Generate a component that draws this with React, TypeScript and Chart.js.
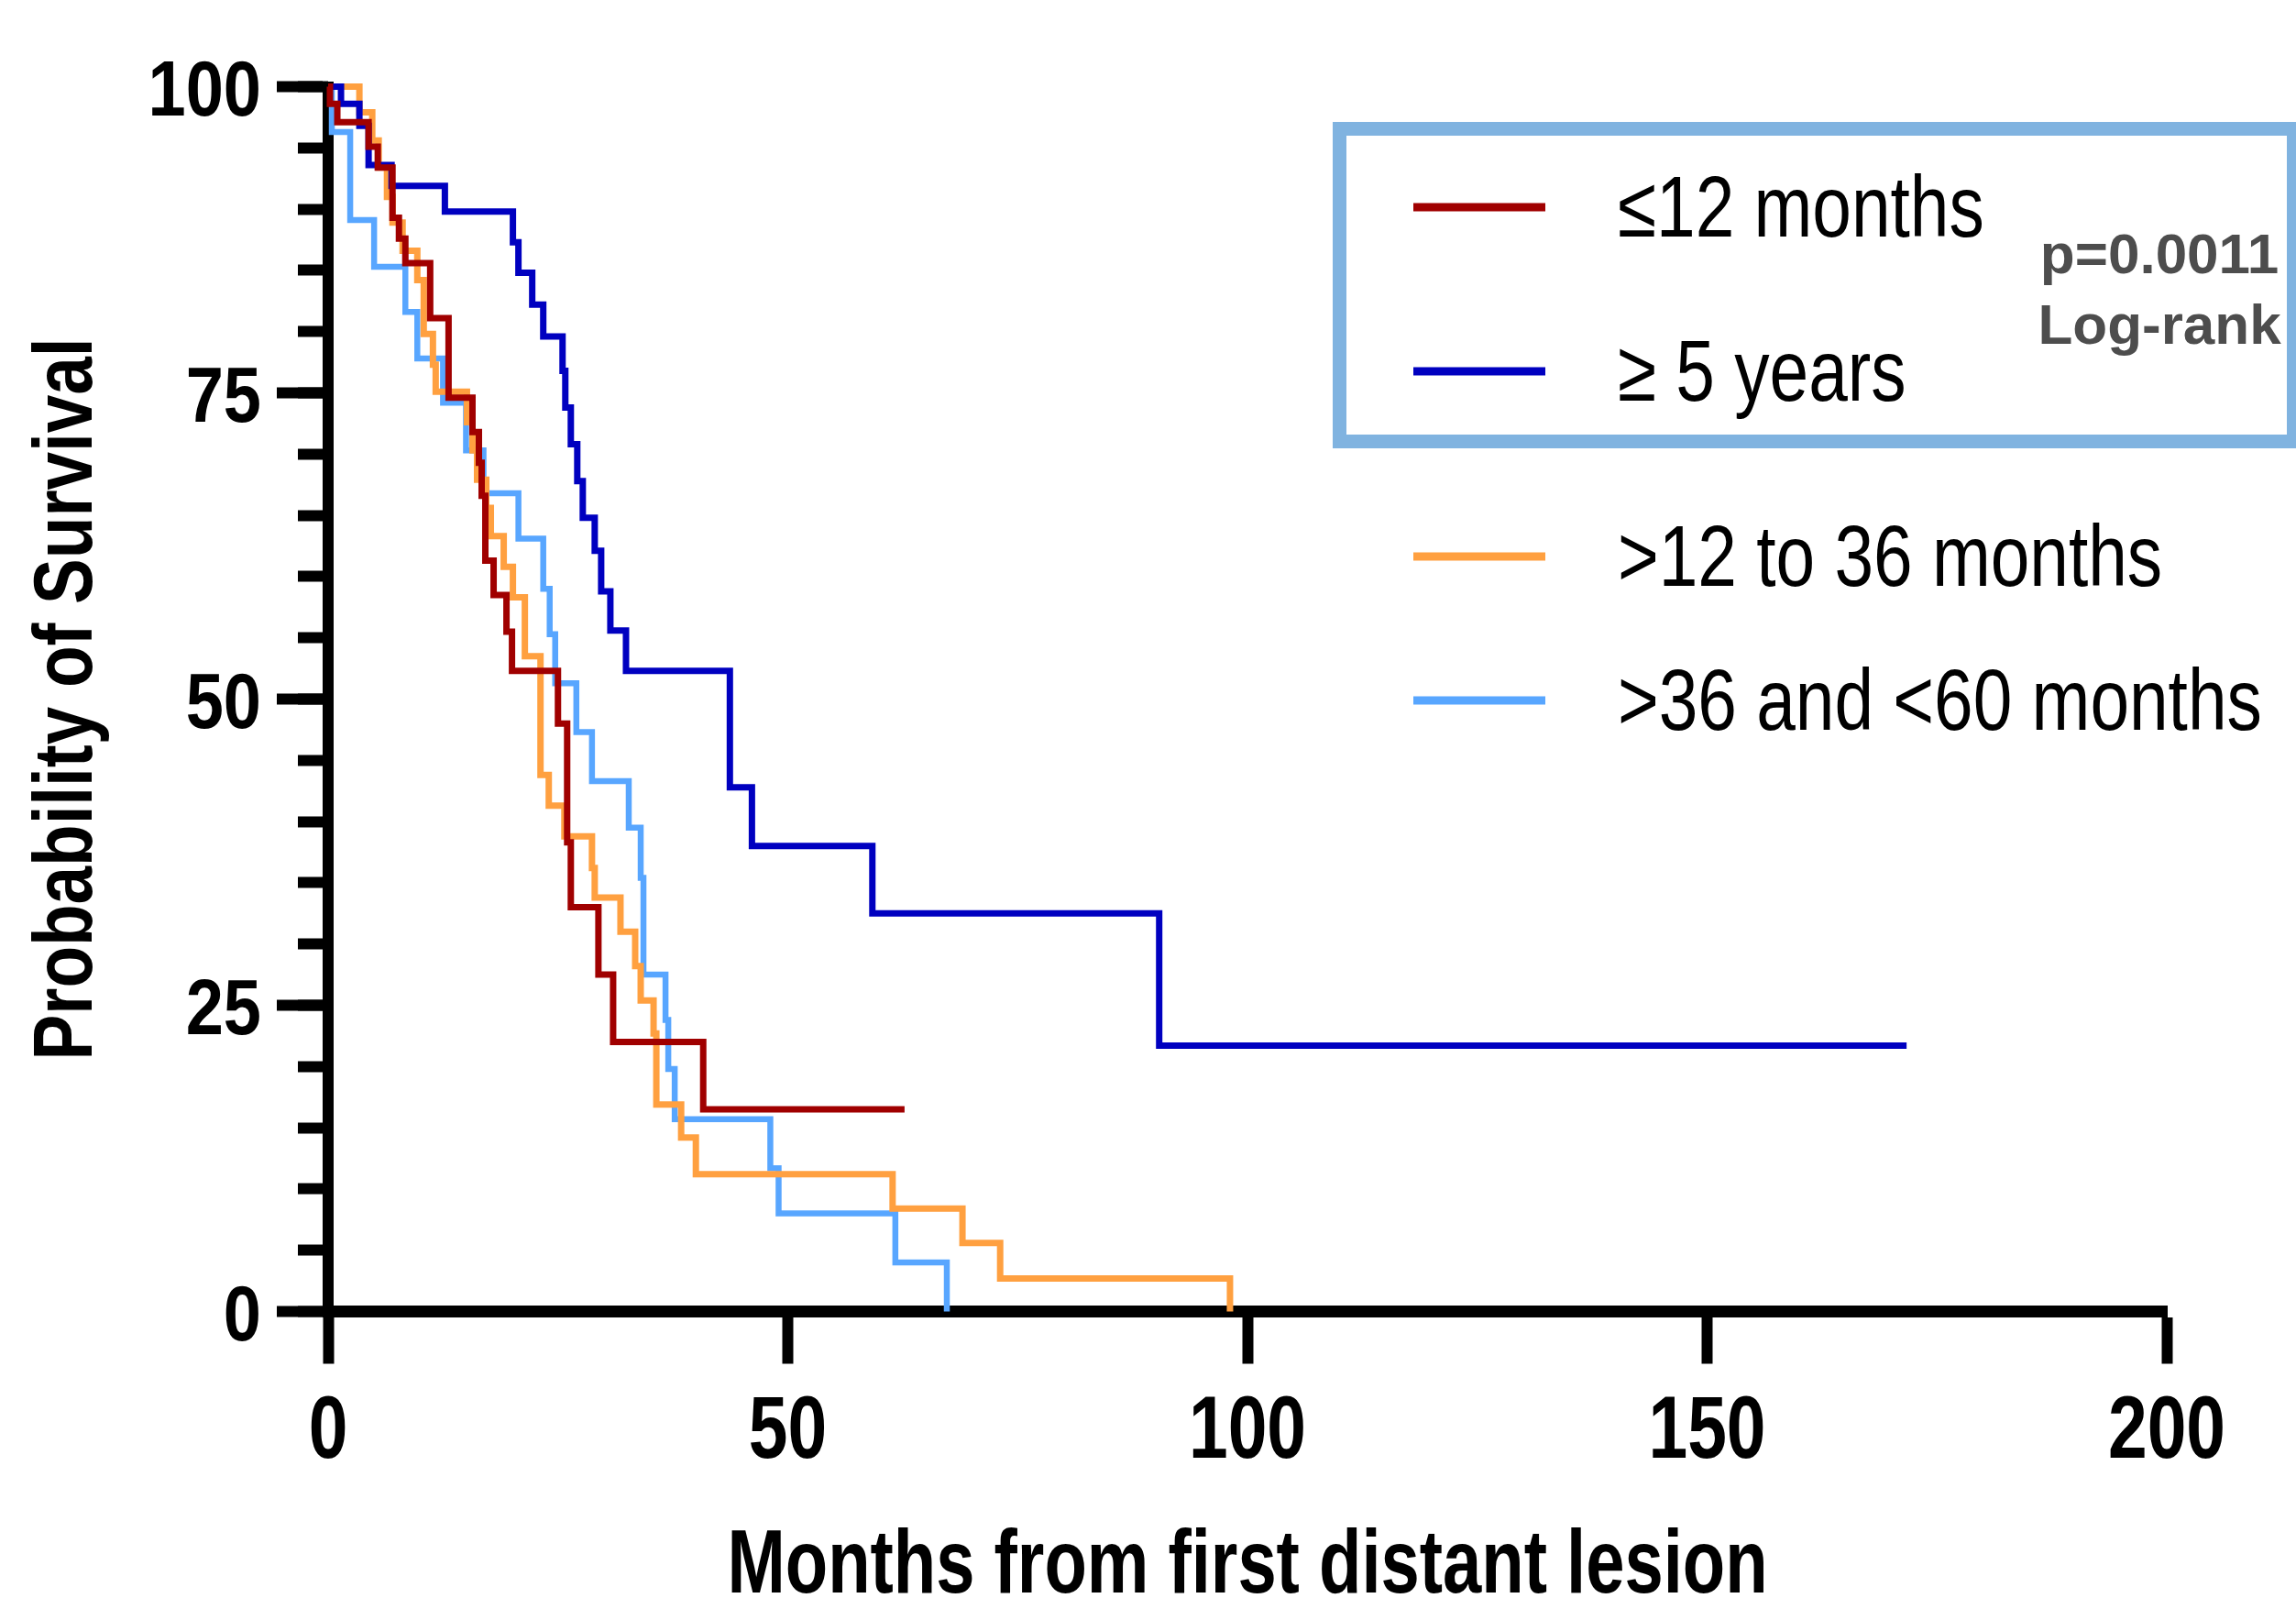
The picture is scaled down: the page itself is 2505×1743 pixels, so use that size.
import React, { useEffect, useRef } from 'react';
import { Chart, registerables } from 'chart.js';

Chart.register(...registerables);

// ---------------- data ----------------
const seriesLabels = ['≤12 months', '≥ 5 years', '>12 to 36 months', '>36 and <60 months'];
const seriesColors = ['#A00000', '#0000C0', '#FFA040', '#58A6FF'];

// [month, survival %] — Kaplan–Meier step points (value after each drop)
const upTo12Months: number[][] = [
  [0, 100], [0.2, 98.6], [1.0, 97.1], [4.4, 95.1], [5.4, 93.4], [7.0, 89.3], [7.7, 87.6],
  [8.4, 85.6], [11.1, 81.1], [13.1, 74.6], [15.7, 71.8], [16.4, 69.3], [16.7, 66.6],
  [17.1, 61.3], [18.0, 58.5], [19.4, 55.5], [20.0, 52.3], [25.0, 48.0], [26.0, 38.3],
  [26.4, 33.0], [29.4, 27.5], [31.0, 22.0], [40.8, 16.5], [62.7, 16.5],
];
const atLeast5Years: number[][] = [
  [0, 100], [1.4, 98.6], [3.4, 96.8], [4.4, 93.6], [6.9, 91.9], [12.7, 89.8], [20.1, 87.3],
  [20.7, 84.8], [22.2, 82.2], [23.4, 79.6], [25.5, 76.8], [25.8, 73.8], [26.4, 70.8],
  [27.1, 67.8], [27.7, 64.8], [29.0, 62.1], [29.7, 58.8], [30.7, 55.6], [32.4, 52.3],
  [43.7, 42.8], [46.1, 38.0], [59.2, 32.5], [90.4, 21.7], [171.7, 21.7],
];
const from12To36Months: number[][] = [
  [0, 100], [3.4, 97.9], [4.8, 95.6], [5.5, 93.4], [6.4, 91.0], [7.0, 88.9], [8.1, 86.6],
  [9.7, 84.2], [10.4, 79.8], [11.4, 77.3], [11.7, 75.1], [15.1, 72.6], [15.7, 70.3],
  [16.2, 67.9], [17.2, 65.6], [17.7, 63.3], [19.1, 60.8], [20.1, 58.3], [21.4, 53.5],
  [23.1, 43.8], [24.0, 41.3], [25.7, 38.8], [28.7, 36.2], [29.0, 33.8], [31.8, 31.0],
  [33.4, 28.2], [34.0, 25.4], [35.4, 22.7], [35.7, 16.9], [38.4, 14.2], [40.0, 11.2],
  [61.4, 8.4], [69.0, 5.6], [73.1, 2.7], [98.1, 0],
];
const from36To60Months: number[][] = [
  [0, 100], [0.4, 96.3], [2.4, 89.1], [5.0, 85.3], [8.4, 81.6], [9.7, 77.8], [12.5, 74.2],
  [15.0, 70.3], [16.9, 66.8], [20.7, 63.1], [23.4, 59.0], [24.1, 55.3], [24.7, 51.3],
  [27.0, 47.3], [28.7, 43.3], [32.7, 39.5], [34.0, 35.4], [34.3, 27.5], [36.7, 23.8],
  [37.0, 19.8], [37.7, 15.7], [48.1, 11.7], [49.0, 8.0], [61.7, 4.0], [67.3, 0],
];
const seriesData = [upTo12Months, atLeast5Years, from12To36Months, from36To60Months];

const xTickValues = [0, 50, 100, 150, 200];
const yTickValues = [0, 25, 50, 75, 100];
const yMinorStep = 5;
const xTitle = 'Months from first distant lesion';
const yTitle = 'Probability of Survival';
const pValueText = 'p=0.0011';
const testText = 'Log-rank';

// ---------------- styling ----------------
const SANS = '"Liberation Sans", Arial, sans-serif';

// draws horizontally condensed text (the reference uses a narrow face)
function condensedText(
  ctx: CanvasRenderingContext2D, text: string, x: number, y: number, font: string,
  sx: number, align: CanvasTextAlign, rotate = 0, color = '#000',
) {
  ctx.save();
  ctx.translate(x, y);
  if (rotate) ctx.rotate(rotate);
  ctx.scale(sx, 1);
  ctx.font = font;
  ctx.fillStyle = color;
  ctx.textAlign = align;
  ctx.textBaseline = 'alphabetic';
  ctx.fillText(text, 0, 0);
  ctx.restore();
}

const textPlugin = {
  id: 'kmText',
  afterDraw(chart: any) {
    const ctx = chart.ctx as CanvasRenderingContext2D;
    const xs = chart.scales.x;
    const ys = chart.scales.y;
    const area = chart.chartArea;

    // tick labels (positions from the chart's own scales)
    yTickValues.forEach((v) => {
      const py = ys.getPixelForValue(v);
      condensedText(ctx, String(v), 285, py + 31, `bold 86px ${SANS}`, 0.86, 'right');
    });
    xTickValues.forEach((v) => {
      const px = xs.getPixelForValue(v);
      condensedText(ctx, String(v), px, 1590, `bold 96px ${SANS}`, 0.8, 'center');
    });

    // axis titles
    condensedText(ctx, xTitle, (area.left + area.right) / 2, 1737, `bold 98px ${SANS}`, 0.775, 'center');
    condensedText(ctx, yTitle, 100, (area.top + area.bottom) / 2, `bold 91px ${SANS}`, 0.82, 'center', -Math.PI / 2);

    // legend
    ctx.save();
    ctx.strokeStyle = '#80B3E0';
    ctx.lineWidth = 15;
    ctx.strokeRect(1461.5, 140.5, 1041, 341);
    const rowY = [226, 405, 607, 764];
    seriesLabels.forEach((lab, i) => {
      ctx.strokeStyle = seriesColors[i];
      ctx.lineWidth = 9;
      ctx.lineCap = 'butt';
      ctx.beginPath();
      ctx.moveTo(1542, rowY[i]);
      ctx.lineTo(1686, rowY[i]);
      ctx.stroke();
      condensedText(ctx, lab, 1765, rowY[i] + 32, `94px ${SANS}`, 0.815, 'left');
    });
    ctx.restore();

    // statistics
    condensedText(ctx, pValueText, 2356, 298, `bold 62px ${SANS}`, 1, 'center', 0, '#4D4D4D');
    condensedText(ctx, testText, 2356, 375, `bold 62px ${SANS}`, 1, 'center', 0, '#4D4D4D');
  },
};

export default function App() {
  const canvasRef = useRef<HTMLCanvasElement | null>(null);

  useEffect(() => {
    document.body.style.margin = '0';
    const canvas = canvasRef.current;
    if (!canvas) return;
    const chart = new Chart(canvas, {
      type: 'line',
      data: {
        datasets: seriesData.map((pts, i) => ({
          label: seriesLabels[i],
          data: pts.map(([x, y]) => ({ x, y })),
          borderColor: seriesColors[i],
          backgroundColor: seriesColors[i],
          borderWidth: i === 3 ? 6.5 : 7,
          stepped: 'before' as const,
          pointRadius: 0,
          pointHoverRadius: 0,
          fill: false,
          tension: 0,
          borderJoinStyle: 'miter' as const,
          borderCapStyle: 'butt' as const,
          clip: false as any,
          order: i,
          xAxisID: 'x',
          yAxisID: 'y',
        })),
      },
      options: {
        responsive: false,
        animation: false,
        devicePixelRatio: 1,
        layout: { padding: { left: 0, right: 141, top: 94.5, bottom: 0 } },
        plugins: { legend: { display: false }, tooltip: { enabled: false }, title: { display: false } },
        scales: {
          x: {
            type: 'linear',
            position: 'bottom',
            min: 0,
            max: 200,
            afterFit: (s: any) => { s.height = 312.5; },
            afterBuildTicks: (s: any) => { s.ticks = xTickValues.map((v) => ({ value: v })); },
            ticks: { display: false, autoSkip: false, maxRotation: 0 },
            grid: { drawOnChartArea: false, drawTicks: true, tickLength: 57, tickWidth: 12, tickColor: '#000' },
            border: { display: true, width: 13, color: '#000' },
            title: { display: false, text: xTitle },
          },
          y: {
            type: 'linear',
            position: 'left',
            weight: 1,
            min: 0,
            max: 100,
            afterFit: (s: any) => { s.width = 358; },
            afterBuildTicks: (s: any) => { s.ticks = yTickValues.map((v) => ({ value: v })); },
            ticks: { display: false },
            grid: { drawOnChartArea: false, drawTicks: true, tickLength: 56, tickWidth: 12, tickColor: '#000' },
            border: { display: true, width: 12, color: '#000' },
            title: { display: false, text: yTitle },
          },
          yMinor: {
            type: 'linear',
            position: 'left',
            weight: 0,
            min: 0,
            max: 100,
            afterFit: (s: any) => { s.width = 0; },
            ticks: { display: false, stepSize: yMinorStep },
            grid: { drawOnChartArea: false, drawTicks: true, tickLength: 33, tickWidth: 12, tickColor: '#000' },
            border: { display: false },
          },
        },
      } as any,
      plugins: [textPlugin],
    });
    return () => chart.destroy();
  }, []);

  return (
    <div style={{ position: 'absolute', left: 0, top: 0, width: 2505, height: 1743, background: '#fff' }}>
      <canvas ref={canvasRef} width={2505} height={1743} style={{ width: 2505, height: 1743, display: 'block' }} />
    </div>
  );
}
